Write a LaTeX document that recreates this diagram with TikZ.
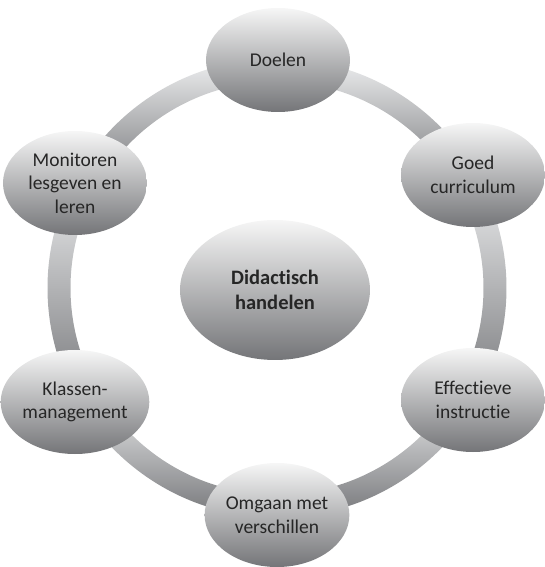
\documentclass[tikz,border=0pt]{standalone}
\usepackage{fontspec}
\setmainfont[Ligatures=NoCommon]{Carlito}
\usetikzlibrary{shapes.geometric}

\definecolor{ringtop}{RGB}{238,239,240}
\definecolor{ringbot}{RGB}{118,119,122}
\definecolor{elltop}{RGB}{246,246,246}
\definecolor{ellbot}{RGB}{116,117,120}
\definecolor{txt}{RGB}{38,38,38}

\tikzset{
  ringpart/.style={top color=ringtop, bottom color=ringbot, draw=none},
  outer/.style={ellipse, shade, top color=elltop, bottom color=ellbot,
    minimum width=144pt, minimum height=104pt, inner sep=0pt, align=center,
    text=txt, font=\fontsize{19.5}{23.5}\selectfont},
  core/.style={outer, minimum width=190pt, minimum height=140pt,
    font=\fontsize{20.5}{24.5}\selectfont\bfseries}
}

\begin{document}
\begin{tikzpicture}[x=1pt, y=1pt]
    \useasboundingbox (-277,-279) rectangle (267,288);

    % ring behind the nodes
    \foreach \a in {-90,-30,...,210}
      \shade[ringpart] (\a:229.5) arc[start angle=\a, end angle=\a+60, radius=229.5]
        -- (\a+60:206.5) arc[start angle=\a+60, end angle=\a, radius=206.5] -- cycle;

    % centre
    \node[core] (didac) at (-2,-2) {Didactisch\\handelen};

    % nodes on the ring
    \node[outer] (doelen) at (1,228) {Doelen};
    \node[outer] (curr) at (196,113) {Goed\\curriculum};
    \node[outer] (instr) at (196,-112) {Effectieve\\instructie};
    \node[outer] (omgaan) at (0,-227) {Omgaan met\\verschillen};
    \node[outer] (klas) at (-202,-114) {Klassen-\\management};
    \node[outer] (monitor) at (-202,105) {Monitoren\\lesgeven en\\leren};
\end{tikzpicture}
\end{document}
